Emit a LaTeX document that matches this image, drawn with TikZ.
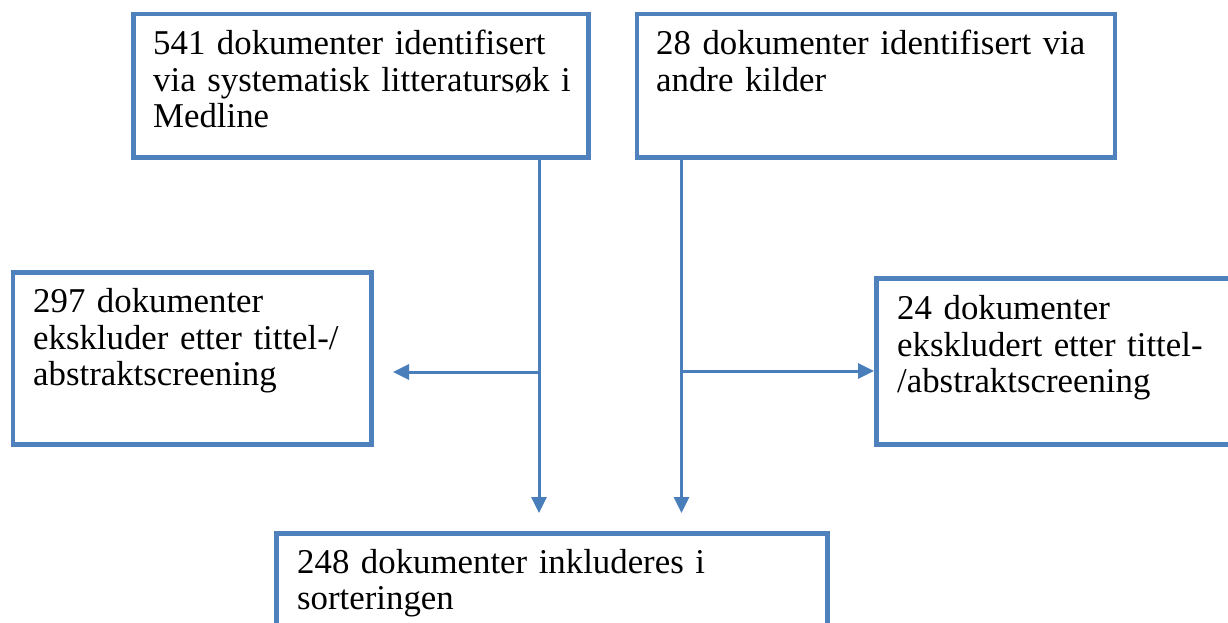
\documentclass[tikz,border=0pt]{standalone}
\usepackage{fontspec}
\setmainfont{Liberation Serif}
\usetikzlibrary{arrows.meta,calc}
\definecolor{boxblue}{HTML}{4F81BD}
\definecolor{lineblue}{HTML}{4A7EBB}
\tikzset{
  box/.style={draw=boxblue, line width=4.5pt, rectangle, inner sep=0pt, anchor=north west},
  txt/.style={anchor=base west, inner sep=0pt, align=left, text width=520pt,
    font=\fontsize{34.8pt}{36.5pt}\selectfont},
  conn/.style={draw=lineblue, line width=3pt, -{Triangle[length=16pt,width=15pt]}}
}
\begin{document}
\begin{tikzpicture}[x=1pt,y=-1pt]
\clip (0,0) rectangle (1228,623);
\fill[white] (0,0) rectangle (1228,623);
% boxes
\node[box, minimum width=455pt, minimum height=143pt] (A) at (131,12) {};
\node[box, minimum width=478pt, minimum height=143pt] (B) at (634.5,12) {};
\node[box, minimum width=358.5pt, minimum height=172pt] (C) at (10.5,270) {};
\node[box, minimum width=400pt, minimum height=166pt] (D) at (874,276) {};
\node[box, minimum width=551pt, minimum height=150pt] (E) at (274,531) {};
% texts
\node[txt] (tA) at (153,55) {541 dokumenter identifisert\\via systematisk litteratursøk i\\Medline};
\node[txt] (tB) at (656,55) {28 dokumenter identifisert via\\andre kilder};
\node[txt] (tC) at (33,312.7) {297 dokumenter\\ekskluder etter tittel-/\\abstraktscreening};
\node[txt] (tD) at (897,319.5) {24 dokumenter\\ekskludert etter tittel-\\/abstraktscreening};
\node[txt] (tE) at (297,573.3) {248 dokumenter inkluderes i\\sorteringen};
% connector coordinates
\coordinate (xl) at (539,0);
\coordinate (xr) at (681.5,0);
\coordinate (tipL) at (539,513);
\coordinate (tipR) at (681.5,513);
\coordinate (midL) at (539,372);
\coordinate (tipC) at (393,372);
\coordinate (midR) at (681.5,371);
% connectors
\draw[conn] (A.south -| xl) -- (tipL);
\draw[conn] (B.south -| xr) -- (tipR);
\draw[conn] (midL) -- (tipC);
\draw[conn] (midR) -- (midR -| D.west);
\end{tikzpicture}
\end{document}
